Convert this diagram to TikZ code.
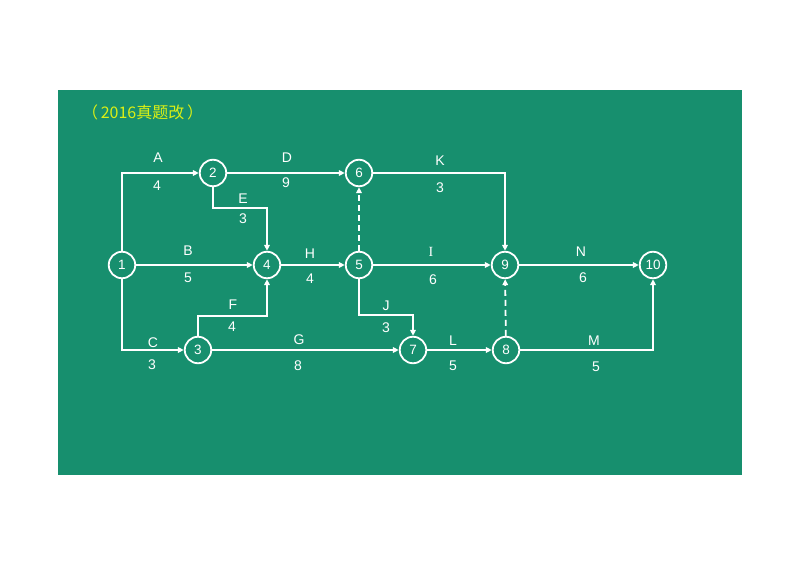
\documentclass[tikz,border=0pt]{standalone}
\usepackage{fontspec}
\setmainfont{Liberation Sans}
\newfontfamily\cjkfont{Noto Sans CJK SC}
\newfontfamily\serifI{Liberation Serif}
\usetikzlibrary{arrows.meta}
\definecolor{bggreen}{RGB}{23,143,110}
\definecolor{titleyellow}{RGB}{220,240,20}
\tikzset{
  ev/.style={circle, draw=white, line width=1.8bp, minimum size=26.5bp, inner sep=0pt, text=white, font=\fontsize{13.5bp}{13.5bp}\selectfont},
  act/.style={draw=white, line width=1.8bp, -{Triangle[length=6bp,width=5.5bp]}},
  dum/.style={act, dash pattern=on 6bp off 4bp},
  lbl/.style={text=white, inner sep=0pt, font=\fontsize{14bp}{14bp}\selectfont}
}
\begin{document}
\begin{tikzpicture}[x=1bp,y=-1bp]
\useasboundingbox (0,0) rectangle (800,566);
\fill[white] (0,0) rectangle (800,566);
\fill[bggreen] (58,90) rectangle (742,475);
\node[text=titleyellow, inner sep=0pt, anchor=west, font=\cjkfont\fontsize{16bp}{16bp}\selectfont] (title) at (82,112) {（\,2016真题改\,）};
% events
\node[ev] (n1) at (122,265) {1};
\node[ev] (n2) at (213,173) {2};
\node[ev] (n3) at (198,350) {3};
\node[ev] (n4) at (267,265) {4};
\node[ev] (n5) at (359,265) {5};
\node[ev] (n6) at (359,173) {6};
\node[ev] (n7) at (413,350) {7};
\node[ev] (n8) at (506,350) {8};
\node[ev] (n9) at (505,265) {9};
\node[ev] (n10) at (653,265) {10};
% bend points
\coordinate (cE) at (267,208);
\coordinate (cF) at (267,316);
\coordinate (cJ) at (413,315);
% activities
\draw[act] (n1) |- (n2);
\draw[act] (n2) -- (n6);
\draw[act] (n2) |- (cE) -- (n4);
\draw[act] (n1) -- (n4);
\draw[act] (n1) |- (n3);
\draw[act] (n3) |- (cF) -- (n4);
\draw[act] (n4) -- (n5);
\draw[act] (n3) -- (n7);
\draw[act] (n5) -- (n9);
\draw[act] (n5) |- (cJ) -- (n7);
\draw[act] (n6) -| (n9);
\draw[act] (n7) -- (n8);
\draw[act] (n9) -- (n10);
\draw[act] (n8) -| (n10);
\draw[dum] (n5) -- (n6);
\draw[dum] (n8) -- (n9);
% labels
\node[lbl] (lA) at (158,158) {A};
\node[lbl] (dA) at (157,186) {4};
\node[lbl] (lD) at (287,158) {D};
\node[lbl] (dD) at (286,183) {9};
\node[lbl] (lE) at (243,199) {E};
\node[lbl] (dE) at (243,219) {3};
\node[lbl] (lB) at (188,251) {B};
\node[lbl] (dB) at (188,278) {5};
\node[lbl] (lH) at (310,254) {H};
\node[lbl] (dH) at (310,279) {4};
\node[lbl] (lK) at (440,161) {K};
\node[lbl] (dK) at (440,188) {3};
\node[lbl, font=\serifI\fontsize{14bp}{14bp}\selectfont] (lI) at (431,252) {I};
\node[lbl] (dI) at (433,280) {6};
\node[lbl] (lN) at (581,252) {N};
\node[lbl] (dN) at (583,278) {6};
\node[lbl] (lJ) at (386,306) {J};
\node[lbl] (dJ) at (386,328) {3};
\node[lbl] (lL) at (453,341) {L};
\node[lbl] (dL) at (453,366) {5};
\node[lbl] (lM) at (594,341) {M};
\node[lbl] (dM) at (596,367) {5};
\node[lbl] (lC) at (153,343) {C};
\node[lbl] (dC) at (152,365) {3};
\node[lbl] (lF) at (233,305) {F};
\node[lbl] (dF) at (232,327) {4};
\node[lbl] (lG) at (299,340) {G};
\node[lbl] (dG) at (298,366) {8};
\end{tikzpicture}
\end{document}
